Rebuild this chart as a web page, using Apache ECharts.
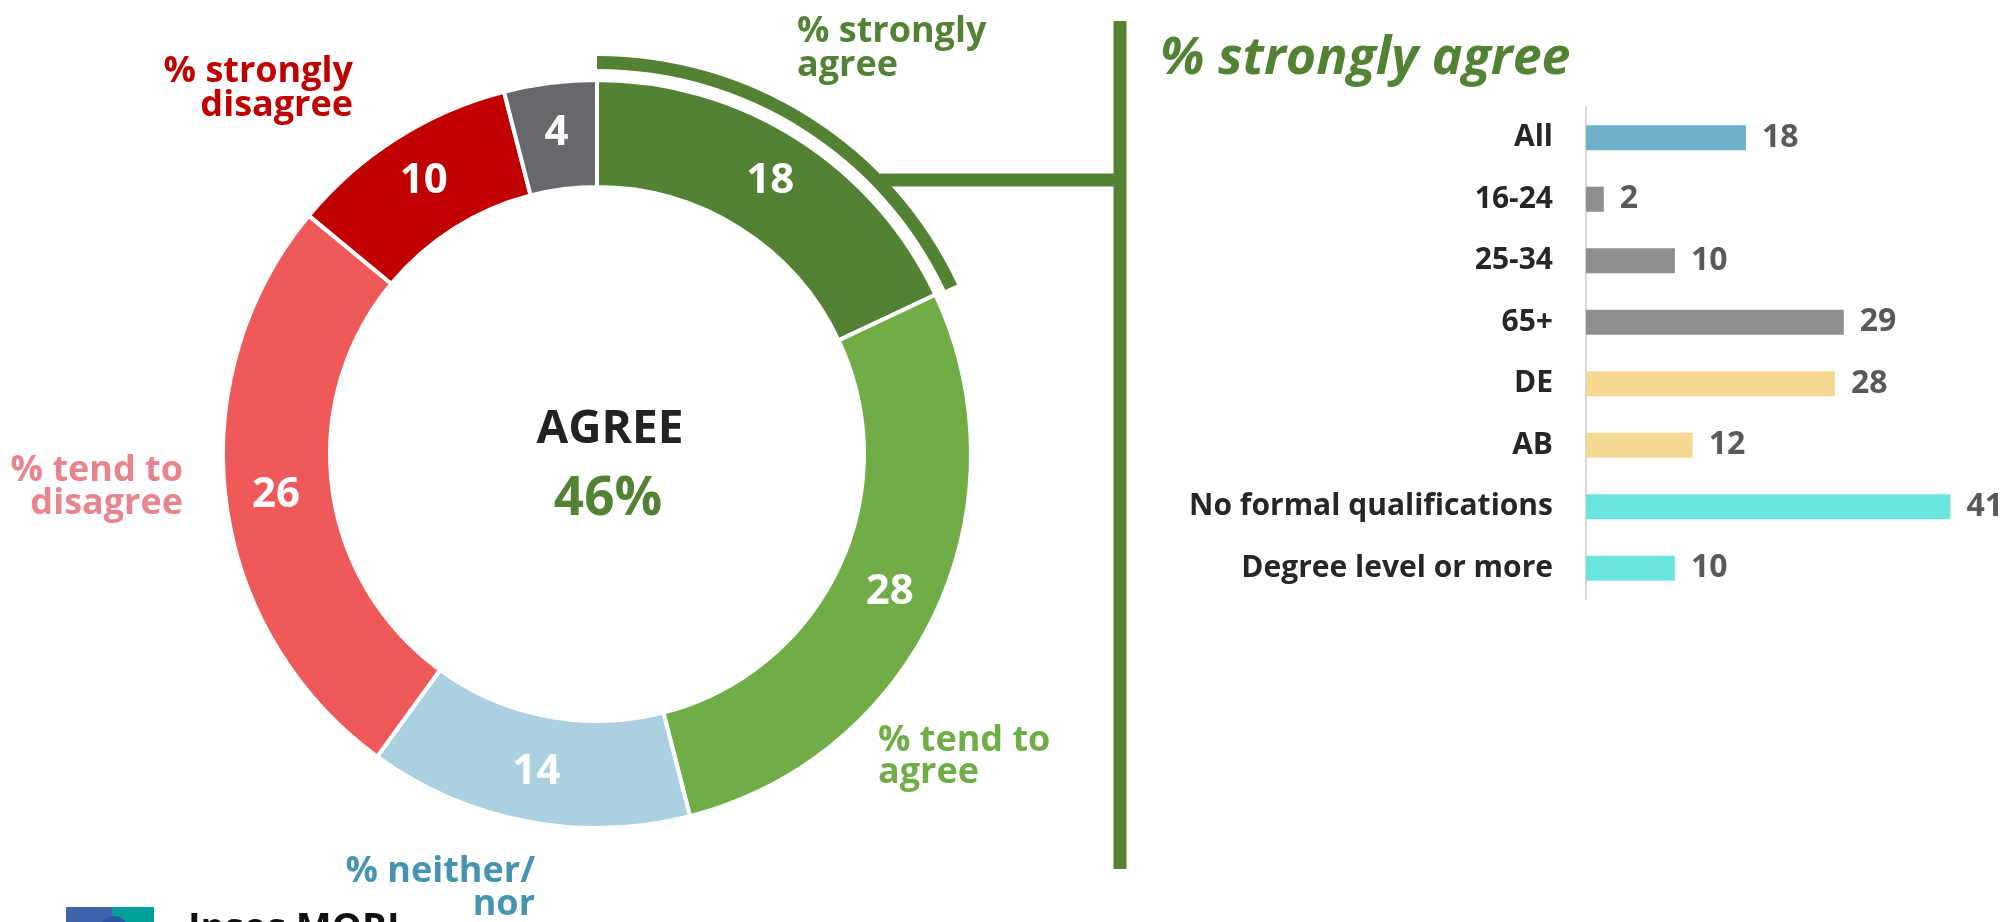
<!DOCTYPE html>
<html>
<head>
<meta charset="utf-8">
<script src="https://cdn.jsdelivr.net/npm/echarts@6/dist/echarts.min.js"></script>
<style>
  html, body { margin: 0; padding: 0; background: #fff; }
  #chart { width: 2004px; height: 922px; }
</style>
</head>
<body>
<div id="chart"></div>
<script>
// donut data (clockwise from 12 o'clock)
const segNames = ['% strongly\nagree', '% tend to\nagree', '% neither/\nnor', '% tend to\ndisagree', '% strongly\ndisagree', "Don't know"];
const segValues = [18, 28, 14, 26, 10, 4];
const agreeTotal = '46%';

// bar data
const barCats = ['All', '16-24', '25-34', '65+', 'DE', 'AB', 'No formal qualifications', 'Degree level or more'];
const barValues = [18, 2, 10, 29, 28, 12, 41, 10];

const segColors = ['#548235', '#70AD47', '#ABD1E0', '#F05959', '#C00000', '#67686B'];
const segLabelColors = ['#548235', '#70AD47', '#4694B0', '#E8848D', '#C00000'];
const barColors = ['#71B0C9', '#8F8F91', '#8F8F91', '#8F8F91', '#F6D893', '#F6D893', '#6BE6DF', '#6BE6DF'];
const font = '"Open Sans", "Noto Sans", sans-serif';

const chart = echarts.init(document.getElementById('chart'));

// where the outside donut labels sit: [x, top, align, lineHeight]
const labelPos = [
  [797, 15, 'left', 34],
  [878, 725, 'left', 32],
  [535, 855, 'right', 33],
  [183, 454, 'right', 33],
  [353, 55, 'right', 34]
];

const labelTexts = labelPos.map((p, i) => ({
  type: 'text',
  x: p[0],
  y: p[1],
  silent: true,
  style: {
    text: segNames[i],
    fill: segLabelColors[i],
    font: 'bold 36px ' + font,
    textAlign: p[2],
    textVerticalAlign: 'top',
    lineHeight: p[3]
  }
}));

const option = {
  animation: false,
  grid: { left: 1586, top: 107, width: 400, height: 492 },
  xAxis: { type: 'value', min: 0, max: 45, show: false },
  yAxis: {
    type: 'category',
    data: barCats,
    inverse: true,
    axisLine: { show: true, lineStyle: { color: '#D9D9D9', width: 2 } },
    axisTick: { show: false },
    axisLabel: { color: '#262626', fontSize: 30, fontWeight: 'bold', fontFamily: font, margin: 33 }
  },
  series: [
    {
      type: 'pie',
      center: [597, 454],
      radius: [267, 374],
      startAngle: 90,
      clockwise: true,
      silent: true,
      avoidLabelOverlap: false,
      itemStyle: { borderColor: '#fff', borderWidth: 4 },
      label: {
        show: true, position: 'inside', formatter: '{c}',
        color: '#fff', fontSize: 42, fontWeight: 'bold', fontFamily: font
      },
      labelLine: { show: false },
      data: segValues.map((v, i) => ({ name: segNames[i], value: v, itemStyle: { color: segColors[i] } }))
    },
    {
      // thin arc marking the "strongly agree" slice
      type: 'pie',
      center: [597, 454],
      radius: [385, 398],
      startAngle: 90,
      clockwise: true,
      silent: true,
      label: { show: false },
      labelLine: { show: false },
      data: [
        { value: segValues[0], itemStyle: { color: '#548235' } },
        { value: 100 - segValues[0], itemStyle: { color: 'rgba(0,0,0,0)' } }
      ]
    },
    {
      type: 'bar',
      barWidth: 25,
      silent: true,
      label: {
        show: true, position: 'right', distance: 16,
        color: '#595959', fontSize: 32, fontWeight: 'bold', fontFamily: font
      },
      data: barValues.map((v, i) => ({ value: v, itemStyle: { color: barColors[i] } }))
    }
  ],
  graphic: [
    // connector from arc to the right-hand panel
    { type: 'line', silent: true, shape: { x1: 880, y1: 180, x2: 1120, y2: 180 }, style: { stroke: '#548235', lineWidth: 13 } },
    { type: 'line', silent: true, shape: { x1: 1120, y1: 21, x2: 1120, y2: 869 }, style: { stroke: '#548235', lineWidth: 13 } },
    {
      type: 'text', x: 1160, y: 59, silent: true,
      style: { text: '% strongly agree', fill: '#548235', font: 'italic bold 52px ' + font, textVerticalAlign: 'middle' }
    },
    {
      type: 'text', x: 610, y: 430, silent: true,
      style: { text: 'AGREE', fill: '#222222', font: 'bold 46px ' + font, textAlign: 'center', textVerticalAlign: 'middle' }
    },
    {
      type: 'text', x: 608, y: 500, silent: true,
      style: { text: agreeTotal, fill: '#548235', font: 'bold 53px ' + font, textAlign: 'center', textVerticalAlign: 'middle' }
    },
    // Ipsos MORI logo (cut off at the bottom)
    { type: 'rect', silent: true, shape: { x: 66, y: 907, width: 46, height: 30 }, style: { fill: '#3F63AD' } },
    { type: 'rect', silent: true, shape: { x: 112, y: 907, width: 42, height: 30 }, style: { fill: '#00A19B' } },
    { type: 'circle', silent: true, shape: { cx: 114, cy: 930, r: 14 }, style: { fill: '#2E55A4' } },
    {
      type: 'text', x: 188, y: 910, silent: true,
      style: { text: 'Ipsos MORI', fill: '#111', font: 'bold 38px ' + font, textVerticalAlign: 'top' }
    }
  ].concat(labelTexts)
};

chart.setOption(option);
</script>
</body>
</html>
